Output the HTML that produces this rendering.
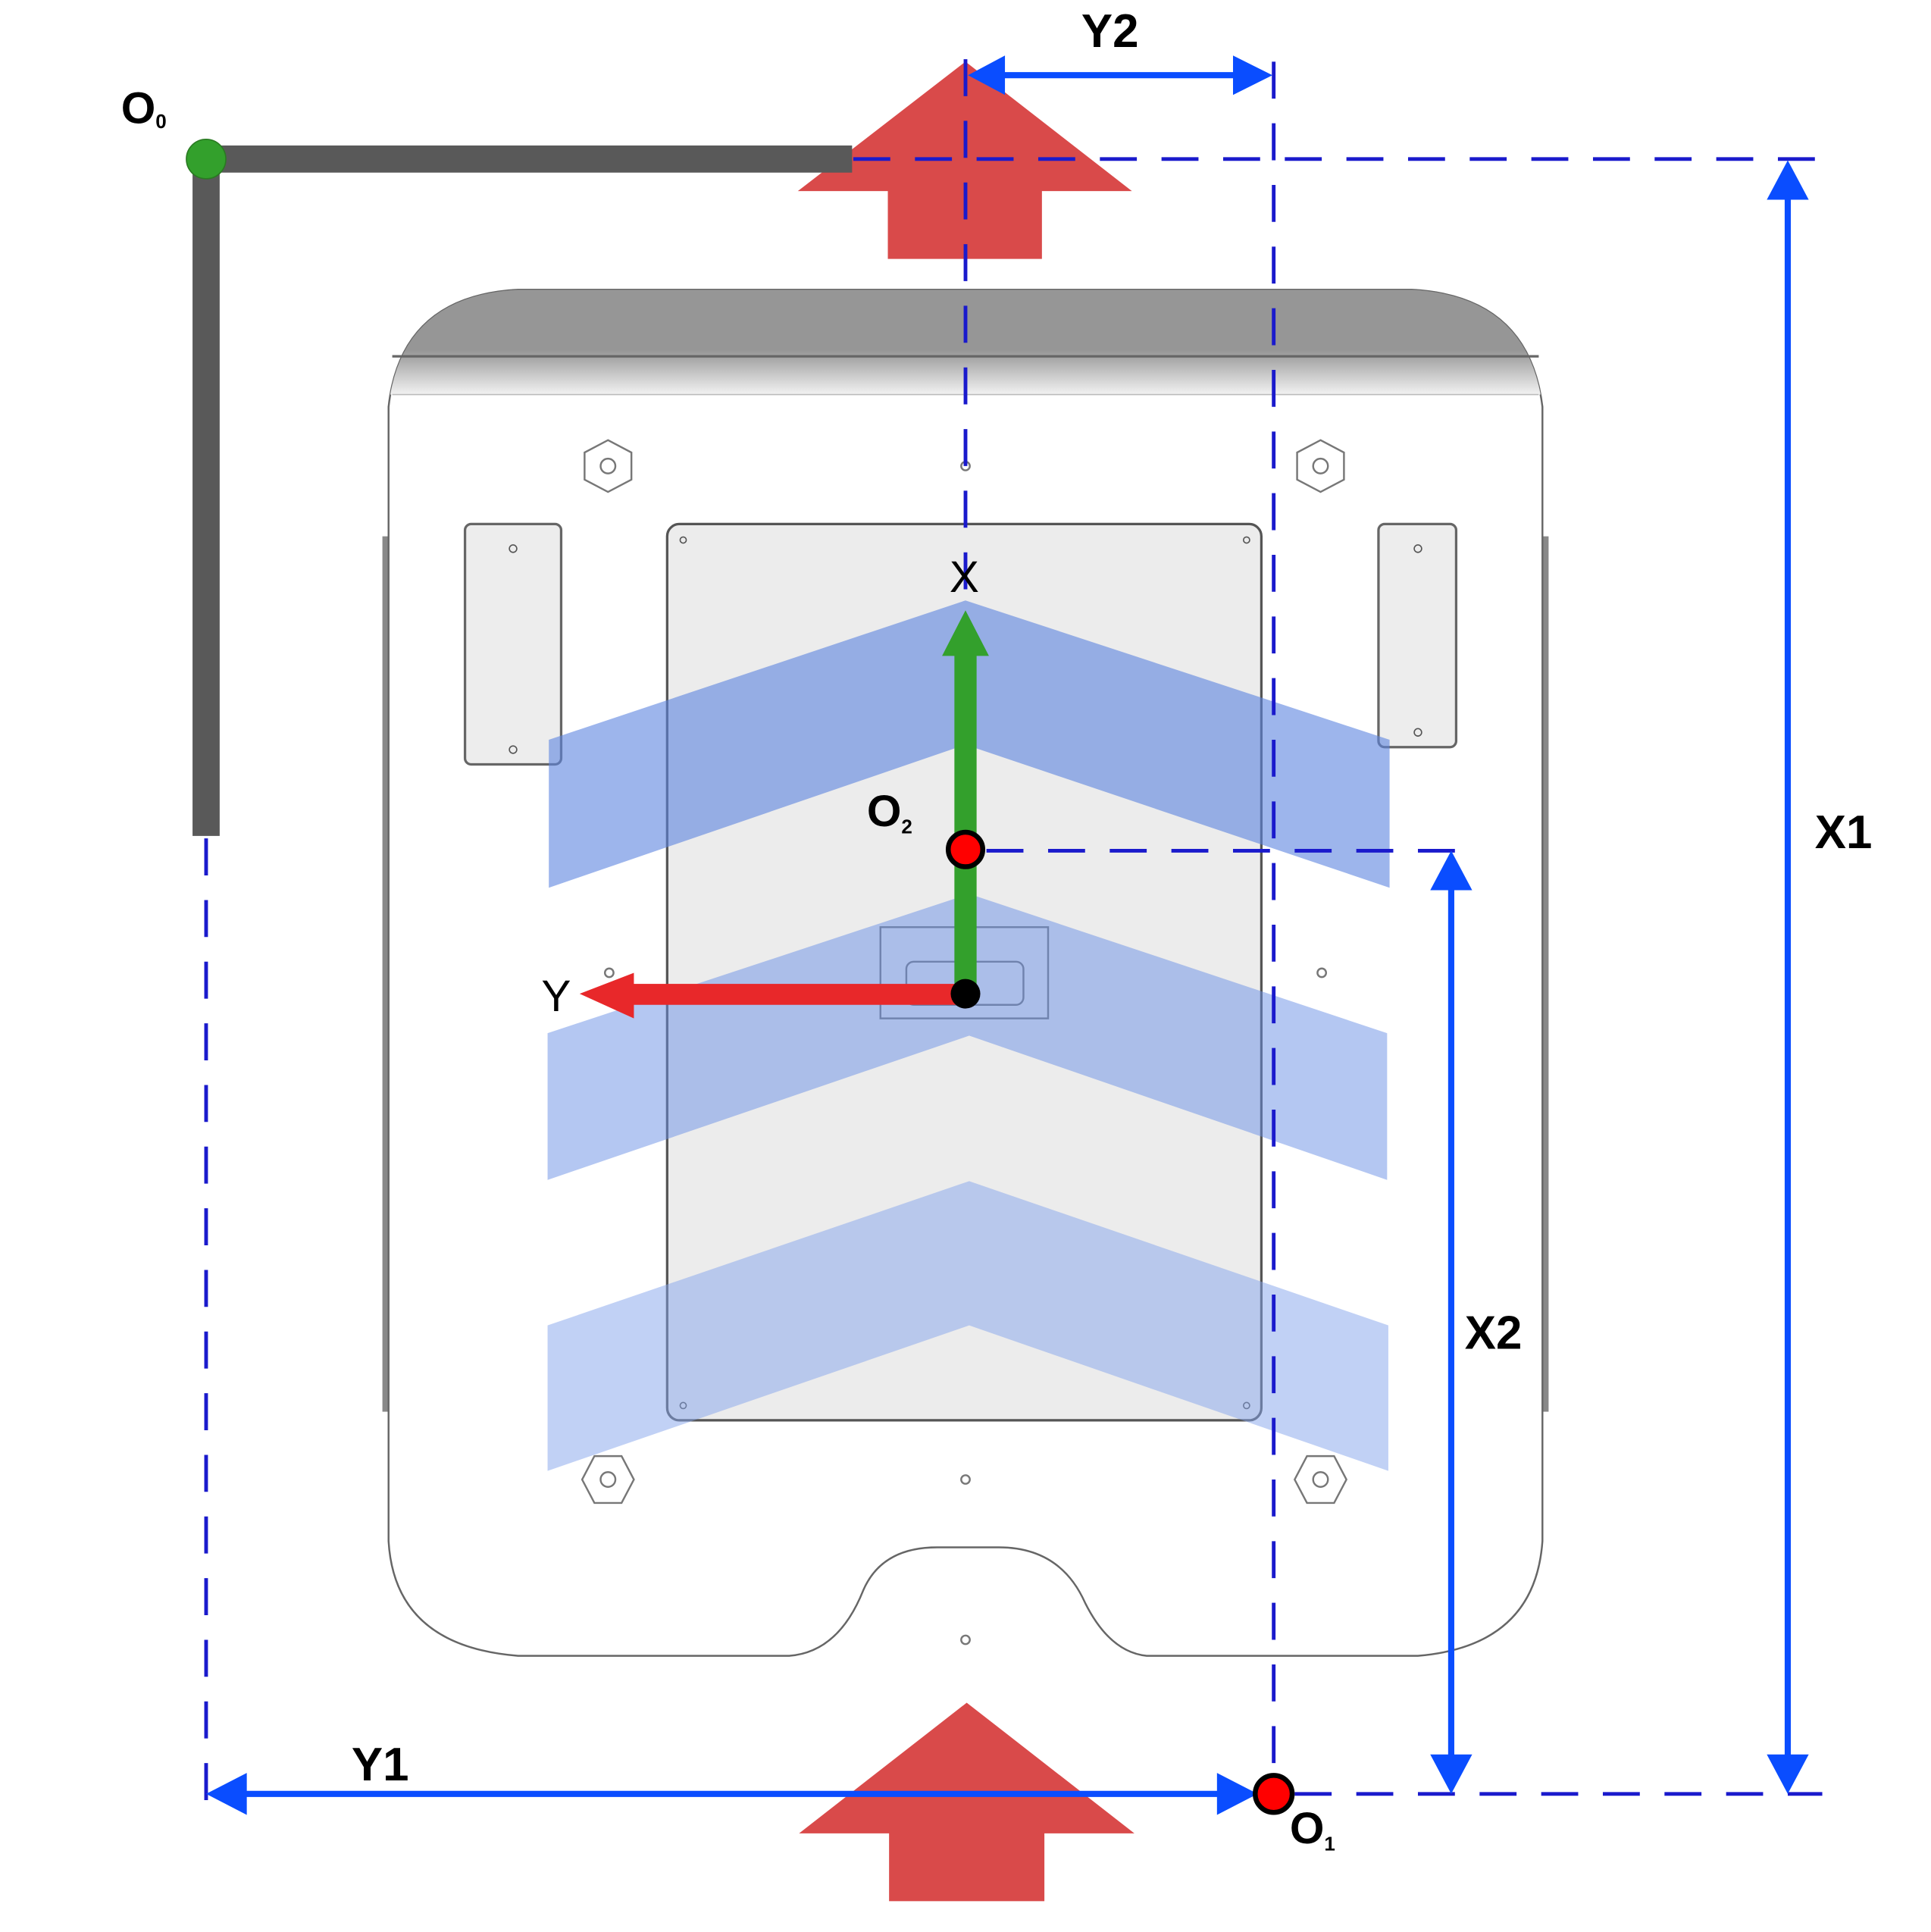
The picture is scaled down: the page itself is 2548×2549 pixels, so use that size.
<!DOCTYPE html>
<html><head><meta charset="utf-8"><style>html,body{margin:0;padding:0;background:#fff}svg{display:block}text{font-family:"Liberation Sans",sans-serif}</style></head>
<body>
<svg width="2548" height="2549" viewBox="0 0 1566 1567" xmlns="http://www.w3.org/2000/svg">
<defs>
<linearGradient id="tg" x1="0" y1="0" x2="0" y2="1"><stop offset="0" stop-color="#969696"/><stop offset="0.6" stop-color="#969696"/><stop offset="1" stop-color="#f2f2f2"/></linearGradient>
<clipPath id="bc"><path d="M420,235 H1145 Q1240,240 1251,330 V1250 Q1245,1335 1150,1343 H420 Q320,1335 315,1250 V330 Q325,240 420,235 Z"/></clipPath>
</defs>
<g>
<rect x="310" y="435" width="8" height="710" fill="#888"/>
<rect x="1248" y="435" width="8" height="710" fill="#888"/>
<path d="M420,235 H1145 Q1240,240 1251,330 V1250 Q1245,1335 1150,1343 H930 Q900,1340 880,1300 Q860,1255 810,1255 H760 Q715,1255 700,1290 Q680,1340 640,1343 H420 Q320,1335 315,1250 V330 Q325,240 420,235 Z" fill="#fff" stroke="#666" stroke-width="1.5"/>
<rect x="300" y="230" width="960" height="90" fill="url(#tg)" clip-path="url(#bc)"/>
<line x1="318" y1="289" x2="1248" y2="289" stroke="#666" stroke-width="2"/>
<line x1="318" y1="320" x2="1248" y2="320" stroke="#bbb" stroke-width="1"/>
</g>
<g><rect x="377" y="425" width="78" height="195" rx="5" fill="#ededed" stroke="#666" stroke-width="2"/><circle cx="416" cy="445" r="3" fill="none" stroke="#555"/><circle cx="416" cy="608" r="3" fill="none" stroke="#555"/></g>
<g><rect x="1118" y="425" width="63" height="181" rx="5" fill="#ededed" stroke="#666" stroke-width="2"/><circle cx="1150" cy="445" r="3" fill="none" stroke="#555"/><circle cx="1150" cy="594" r="3" fill="none" stroke="#555"/></g>
<g fill="none" stroke="#777" stroke-width="1.5">
<polygon points="472,378 482,359 504,359 514,378 504,397 482,397" transform="rotate(90 493 378)"/><circle cx="493" cy="378" r="6"/>
<polygon points="1050,378 1060,359 1082,359 1092,378 1082,397 1060,397" transform="rotate(90 1071 378)"/><circle cx="1071" cy="378" r="6"/>
<polygon points="472,1200 482,1181 504,1181 514,1200 504,1219 482,1219"/><circle cx="493" cy="1200" r="6"/>
<polygon points="1050,1200 1060,1181 1082,1181 1092,1200 1082,1219 1060,1219"/><circle cx="1071" cy="1200" r="6"/>
<circle cx="783" cy="378" r="3.5"/><circle cx="783" cy="1200" r="3.5"/><circle cx="494" cy="789" r="3.5"/><circle cx="1072" cy="789" r="3.5"/><circle cx="783" cy="1330" r="3.5"/>
</g>
<g><rect x="541" y="425" width="482" height="727" rx="10" fill="#ececec" stroke="#555" stroke-width="2"/><circle cx="554" cy="438" r="2.5" fill="none" stroke="#555"/><circle cx="1011" cy="438" r="2.5" fill="none" stroke="#555"/><circle cx="554" cy="1140" r="2.5" fill="none" stroke="#555"/><circle cx="1011" cy="1140" r="2.5" fill="none" stroke="#555"/></g>
<g><rect x="714" y="752" width="136" height="74" fill="none" stroke="#777" stroke-width="1.5"/><rect x="735" y="780" width="95" height="35" rx="6" fill="none" stroke="#777" stroke-width="1.5"/></g>
<polygon points="445,600 783,487 1127,600 1127,720 783,604 445,720" fill="#5b83e0" fill-opacity="0.6"/>
<polygon points="444,838 786,725 1125,838 1125,957 786,840 444,957" fill="#6a90e6" fill-opacity="0.5"/>
<polygon points="444,1075 786,958 1126,1075 1126,1193 786,1075 444,1193" fill="#84a4ec" fill-opacity="0.5"/>
<g fill="#d94a4a"><polygon points="647,155 783,50 918,155"/><rect x="720" y="154" width="125" height="56"/></g>
<g fill="#d94a4a"><polygon points="648,1487 784,1381 920,1487"/><rect x="721" y="1486" width="126" height="56"/></g>
<g fill="#595959"><rect x="156" y="118" width="535" height="22"/><rect x="156" y="118" width="22" height="560"/></g>
<g stroke="#1a1acc" stroke-width="3" stroke-dasharray="30,20" fill="none">
<line x1="783" y1="48" x2="783" y2="500"/>
<line x1="1033" y1="50" x2="1033" y2="1455"/>
<line x1="692" y1="129" x2="1478" y2="129"/>
<line x1="800" y1="690" x2="1190" y2="690"/>
<line x1="1050" y1="1455" x2="1478" y2="1455"/>
<line x1="167" y1="680" x2="167" y2="1480"/>
</g>
<g fill="#0a4dff" stroke="#0a4dff">
<line x1="805" y1="61" x2="1010" y2="61" stroke-width="5"/><polygon points="785,61 815,45 815,77" stroke="none"/><polygon points="1032,61 1000,45 1000,77" stroke="none"/>
<line x1="1450" y1="155" x2="1450" y2="1430" stroke-width="5"/><polygon points="1450,130 1433,162 1467,162" stroke="none"/><polygon points="1450,1455 1433,1423 1467,1423" stroke="none"/>
<line x1="1177" y1="715" x2="1177" y2="1430" stroke-width="5"/><polygon points="1177,690 1160,722 1194,722" stroke="none"/><polygon points="1177,1455 1160,1423 1194,1423" stroke="none"/>
<line x1="190" y1="1455" x2="995" y2="1455" stroke-width="5"/><polygon points="167,1455 200,1438 200,1472" stroke="none"/><polygon points="1020,1455 987,1438 987,1472" stroke="none"/>
</g>
<g><rect x="774" y="528" width="18" height="278" fill="#33a02c"/><polygon points="764,532 783,495 802,532" fill="#33a02c"/></g>
<g><rect x="510" y="798" width="273" height="17" fill="#e8282a"/><polygon points="514,789 470,806 514,826" fill="#e8282a"/></g>
<circle cx="783" cy="806" r="12" fill="#000"/>
<circle cx="167" cy="129" r="16" fill="#33a02c" stroke="#2a7a22" stroke-width="1"/>
<circle cx="783" cy="689" r="14" fill="#f00" stroke="#000" stroke-width="4"/>
<circle cx="1033" cy="1455" r="15" fill="#f00" stroke="#000" stroke-width="4"/>
<g font-weight="bold" fill="#000">
<text x="98" y="100" font-size="36">O<tspan font-size="16" dy="4">0</tspan></text>
<text x="703" y="670" font-size="36">O<tspan font-size="16" dy="6">2</tspan></text>
<text x="1046" y="1495" font-size="36">O<tspan font-size="16" dy="6">1</tspan></text>
<text x="877" y="38" font-size="38">Y2</text>
<text x="1472" y="688" font-size="38">X1</text>
<text x="1188" y="1094" font-size="38">X2</text>
<text x="285" y="1444" font-size="38">Y1</text>
</g>
<text x="770" y="480" font-size="36">X</text>
<text x="439" y="820" font-size="36">Y</text>
</svg>
</body></html>
